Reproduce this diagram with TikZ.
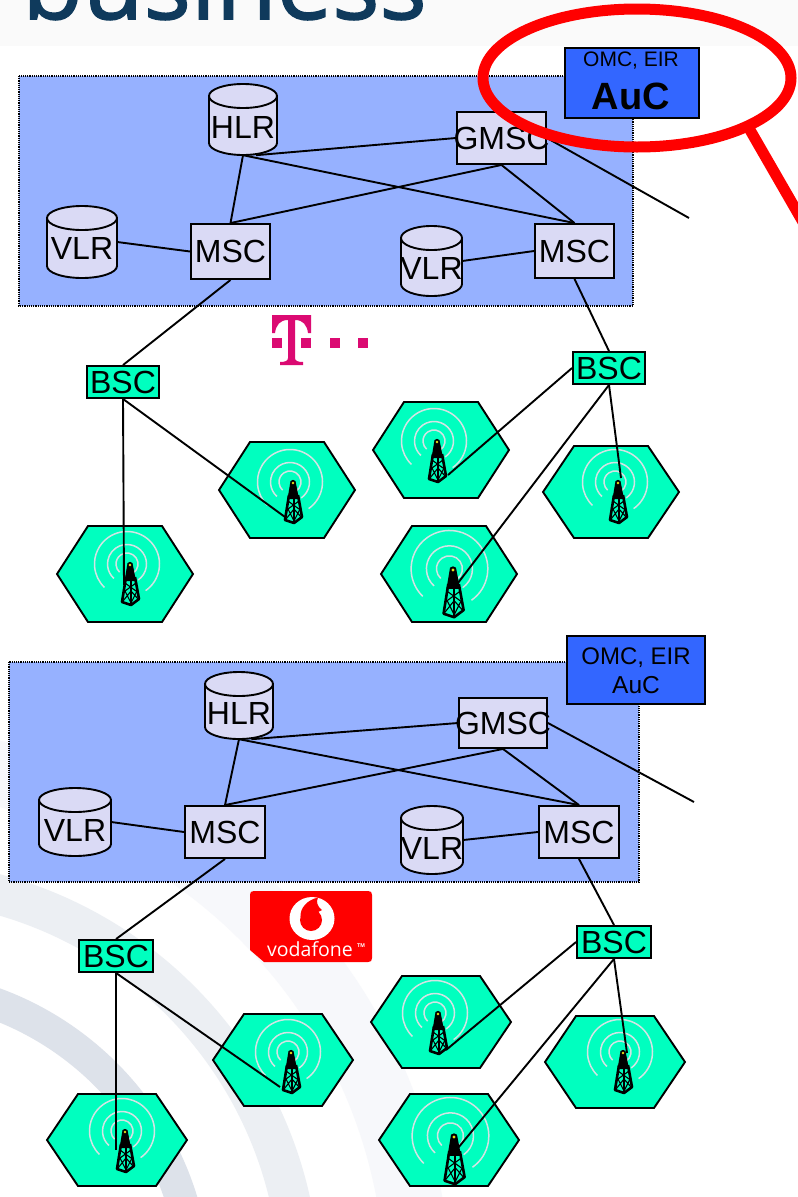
\documentclass[tikz,border=0pt]{standalone}
\usepackage{fontspec}
\setmainfont{Liberation Sans}
\newfontfamily\brandfont[FakeBold=1.6]{Open Sans}
\newfontfamily\vodafont{Open Sans}
\definecolor{boxblue}{HTML}{96B1FF}
\definecolor{auxblue}{HTML}{3366FF}
\definecolor{lav}{HTML}{DADAF5}
\definecolor{teal}{HTML}{00FFBF}
\definecolor{ringc}{HTML}{D3E4E4}
\definecolor{navy}{HTML}{0F3A5C}
\definecolor{tmag}{HTML}{DB0A72}
\definecolor{arcA}{HTML}{DDE2EA}
\definecolor{arcB}{HTML}{ECEFF3}
\definecolor{arcC}{HTML}{F7F8FB}
\tikzset{
  wire/.style={draw=black,line width=1.9pt},
  netbox/.style={rectangle,draw=black,line width=1.9pt,fill=lav,inner sep=0pt,font=\fontsize{32}{32}\selectfont},
  basebox/.style={rectangle,draw=black,line width=1.9pt,fill=teal,inner sep=0pt,font=\fontsize{32}{32}\selectfont},
  hexcell/.style={draw=black,line width=1.9pt,fill=teal},
  ringarc/.style={draw=ringc,line width=1.5pt},
  auxbox/.style={rectangle,draw=black,line width=1.9pt,fill=auxblue,inner sep=0pt},
  region/.style={draw=black,densely dotted,line width=1.2pt,fill=boxblue},
  redmark/.style={draw=red,line width=11pt},
}
% rectangle box: name, x0,y0,x1,y1, style, text
\newcommand{\boxat}[7]{%
  \node[#6,minimum width=#4pt-#2pt,minimum height=#5pt-#3pt] (#1) at ({(#2+#4)/2},{(#3+#5)/2}) {\makebox[0pt]{\raisebox{-1pt}{#7}}};}
% cylinder: name,x0,y0,x1,y1,text y
\newcommand{\cylat}[6]{%
  \path[draw=black,line width=1.9pt,fill=lav] (#2,#3+12) arc[start angle=180,end angle=360,x radius={(#4-#2)/2},y radius=12]
     -- (#4,#5-12) arc[start angle=0,end angle=180,x radius={(#4-#2)/2},y radius=12] -- cycle;
  \path[draw=black,line width=1.9pt] (#2,#3+12) arc[start angle=180,end angle=0,x radius={(#4-#2)/2},y radius=12];
  \coordinate (#1c) at ({(#2+#4)/2},#6);
}
% hexagon, radio rings and tower: name,cx,cy,hw,hh,apex x,apex y,scale
\newcommand{\cellat}[8]{%
  \path[hexcell] (#2-#4,#3) -- (#2-#4+31,#3-#5) -- (#2+#4-31,#3-#5) -- (#2+#4,#3) -- (#2+#4-31,#3+#5) -- (#2-#4+31,#3+#5) -- cycle;
  \begin{scope}[shift={(#6,#7)},scale=#8]
    \foreach \r/\s/\e in {11/55/-228,19.5/55/-228,32.5/55/-226}{
      \draw[ringarc] (-3,-1) ++(\s:\r) arc[start angle=\s,end angle=\e,radius=\r];
    }
    \fill[black] (-2.5,-2) .. controls (-1,-3.5) and (1,-3.5) .. (2.5,-2) -- (6,16) -- (-5.5,16) -- cycle;
    \draw[black,line width=2.6pt,line join=round] (-4,12) -- (-8,37) -- (1,40) -- (9,34) -- (5,12);
    \draw[black,line width=2pt] (1,8) -- (1,40);
    \draw[black,line width=1.1pt] (-7,36) -- (1,26) -- (8,34) (-5,26) -- (1,38) -- (7,26) (-5,18) -- (6,26) (6,18) -- (-5,26);
    \fill[yellow!90!black] (0,0) circle (1.3);
  \end{scope}
}
\begin{document}
\begin{tikzpicture}[x=1pt,y=-1pt]
\useasboundingbox (0,0) rectangle (798,1197);
\clip (0,0) rectangle (798,1197);
\fill[white] (0,0) rectangle (798,1197);
% slide background
\begin{scope}
  \clip (0,600) rectangle (798,1197);
  \draw[arcC,line width=65pt] (-110,1290) circle (527.5);
  \draw[arcB,line width=40pt] (-110,1290) circle (410);
  \draw[arcA,line width=32pt] (-110,1290) circle (305);
\end{scope}
\fill[black!2!white] (0,0) rectangle (798,46);
\node[anchor=base west,inner sep=0pt,text=navy,font=\brandfont\fontsize{99}{99}\selectfont] (brand) at (22,19) {business};

% regions
\path[region] (19,76) rectangle (633,306);
\path[region] (9,662) rectangle (639,882);

% T logo
\fill[tmag] (272,315) -- (311,315) -- (311,333) -- (308,333) .. controls (307,325) and (303,320) .. (295,320)
  -- (295,358) .. controls (295,361) and (298,362) .. (303,362) -- (303,365) -- (280,365) -- (280,362)
  .. controls (285,362) and (288,361) .. (288,358) -- (288,320) .. controls (280,320) and (276,325) .. (275,333) -- (272,333) -- cycle;
\foreach \x in {272,301,330,358} \fill[tmag] (\x,338) rectangle ++(10,10);
% vodafone logo
\fill[red] (254,891) -- (368,891) .. controls (371,891) and (372,892) .. (372,895) -- (372,958) .. controls (372,961) and (371,962) .. (368,962) -- (264,962) -- (250,950) -- (250,895) .. controls (250,892) and (251,891) .. (254,891) -- cycle;
\fill[white] (312,918.5) ellipse [x radius=22.5,y radius=21.5];
\fill[red] (311,920) circle (11);
\fill[red] (300.5,917) .. controls (300,908) and (307,900) .. (318,897.5) .. controls (316,902) and (317,906) .. (322,910) -- (312,915) -- cycle;
\node[inner sep=0pt,anchor=base,text=white,font=\vodafont\fontsize{19.5}{19.5}\selectfont] (vf) at (310,956) {vodafone};
\node[inner sep=0pt,anchor=base,text=white,font=\fontsize{5.5}{5.5}\bfseries\selectfont] (tm) at (361,947) {TM};

% top network
\cellat{ca}{125}{574}{68}{48}{130}{565}{1}
\cellat{cb}{287}{490}{68}{48}{293}{483}{1}
\cellat{cc}{441}{450}{68}{48}{437}{442}{1}
\cellat{cd}{611}{492}{68}{46}{618}{483}{1}
\cellat{ce}{449}{574}{68}{48}{453}{570}{1.18}
\cylat{hlrA}{209}{84}{277}{155}{127}
\cylat{vlrA}{47}{206}{117}{278}{248}
\cylat{vlrB}{401}{226}{462}{296}{268}
\node[inner sep=0pt,minimum width=68pt,minimum height=71pt] (hlrAn) at (243,119.5) {};
\node[inner sep=0pt,minimum width=70pt,minimum height=72pt] (vlrAn) at (82,242) {};
\node[inner sep=0pt,minimum width=61pt,minimum height=70pt] (vlrBn) at (431.5,261) {};
\boxat{gmscA}{457}{112}{546}{164}{netbox}{GMSC}
\boxat{mscA}{191}{224}{270}{279}{netbox}{MSC}
\boxat{mscB}{535}{224}{614}{278}{netbox}{MSC}
\boxat{bscA}{87}{366}{159}{398}{basebox}{BSC}
\boxat{bscB}{573}{352}{645}{384}{basebox}{BSC}
\node[font=\fontsize{32}{32}\selectfont,inner sep=0pt] (hlrAt) at (hlrAc) {HLR};
\node[font=\fontsize{32}{32}\selectfont,inner sep=0pt] (vlrAt) at (vlrAc) {VLR};
\node[font=\fontsize{32}{32}\selectfont,inner sep=0pt] (vlrBt) at (vlrBc) {VLR};
\coordinate (outA) at (689,218);
\coordinate (ta) at (124,585);
\coordinate (tb) at (285,517);
\coordinate (tc) at (448,475);
\coordinate (td) at (621,478);
\coordinate (te) at (458,583);
\draw[wire] (hlrAn.-70) -- (gmscA.west);
\draw[wire] (hlrAn.south) -- (mscA.north);
\draw[wire] (hlrAn.south) -- (mscB.north);
\draw[wire] (gmscA.south) -- (mscA.north);
\draw[wire] (gmscA.south) -- (mscB.north);
\draw[wire] (gmscA.east) -- (outA);
\draw[wire] (vlrAn.east) -- (mscA.west);
\draw[wire] (vlrBn.east) -- (mscB.west);
\draw[wire] (mscA.south) -- (bscA.north);
\draw[wire] (mscB.south) -- (bscB.north);
\draw[wire] (bscA.south) -- (ta);
\draw[wire] (bscA.south) -- (tb);
\draw[wire] (bscB.west) -- (tc);
\draw[wire] (bscB.south) -- (td);
\draw[wire] (bscB.south) -- (te);

% bottom network
\cellat{cf}{117}{1140}{70}{46}{125}{1132}{1}
\cellat{cg}{283}{1060}{70}{46}{291}{1053}{1}
\cellat{ch}{441}{1022}{70}{46}{438}{1014}{1}
\cellat{ci}{615}{1062}{70}{46}{623}{1053}{1}
\cellat{cj}{449}{1140}{70}{46}{454}{1137}{1.18}
\cylat{hlrB}{205}{672}{273}{739}{713}
\cylat{vlrC}{39}{788}{111}{856}{830}
\cylat{vlrD}{401}{806}{463}{874}{848}
\node[inner sep=0pt,minimum width=68pt,minimum height=67pt] (hlrBn) at (239,705.5) {};
\node[inner sep=0pt,minimum width=72pt,minimum height=68pt] (vlrCn) at (75,822) {};
\node[inner sep=0pt,minimum width=62pt,minimum height=68pt] (vlrDn) at (432,840) {};
\boxat{gmscB}{459}{698}{547}{748}{netbox}{GMSC}
\boxat{mscC}{185}{806}{265}{858}{netbox}{MSC}
\boxat{mscD}{539}{806}{619}{858}{netbox}{MSC}
\boxat{bscC}{79}{940}{153}{972}{basebox}{BSC}
\boxat{bscD}{577}{926}{651}{958}{basebox}{BSC}
\node[font=\fontsize{32}{32}\selectfont,inner sep=0pt] (hlrBt) at (hlrBc) {HLR};
\node[font=\fontsize{32}{32}\selectfont,inner sep=0pt] (vlrCt) at (vlrCc) {VLR};
\node[font=\fontsize{32}{32}\selectfont,inner sep=0pt] (vlrDt) at (vlrDc) {VLR};
\coordinate (outB) at (694,802);
\coordinate (tf) at (116,1150);
\coordinate (tg) at (280,1087);
\coordinate (th) at (446,1050);
\coordinate (ti) at (627,1053);
\coordinate (tj) at (458,1148);
\draw[wire] (hlrBn.-70) -- (gmscB.west);
\draw[wire] (hlrBn.south) -- (mscC.north);
\draw[wire] (hlrBn.south) -- (mscD.north);
\draw[wire] (gmscB.south) -- (mscC.north);
\draw[wire] (gmscB.south) -- (mscD.north);
\draw[wire] (gmscB.east) -- (outB);
\draw[wire] (vlrCn.east) -- (mscC.west);
\draw[wire] (vlrDn.east) -- (mscD.west);
\draw[wire] (mscC.south) -- (bscC.north);
\draw[wire] (mscD.south) -- (bscD.north);
\draw[wire] (bscC.south) -- (tf);
\draw[wire] (bscC.south) -- (tg);
\draw[wire] (bscD.west) -- (th);
\draw[wire] (bscD.south) -- (ti);
\draw[wire] (bscD.south) -- (tj);

% auxiliary boxes
\node[auxbox,minimum width=134pt,minimum height=70pt] (auxA) at (632,83) {};
\node[inner sep=0pt,font=\fontsize{21}{21}\selectfont] (auxAa) at (631,61) {OMC, EIR};
\node[inner sep=0pt,font=\fontsize{38}{38}\bfseries\selectfont] (auxAb) at (631,96) {AuC};
\node[auxbox,minimum width=138pt,minimum height=68pt] (auxB) at (636,670) {};
\node[inner sep=0pt,font=\fontsize{24}{24}\selectfont] (auxBa) at (636,658) {OMC, EIR};
\node[inner sep=0pt,font=\fontsize{24.5}{24.5}\selectfont] (auxBb) at (636,685) {AuC};

% red magnifier
\draw[redmark] (637,78) ellipse [x radius=154,y radius=69];
\draw[redmark] (750,130) -- (803,222);
\end{tikzpicture}
\end{document}
